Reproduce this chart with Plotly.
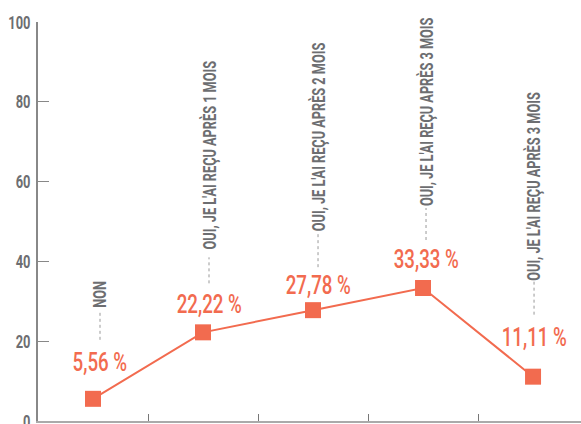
import plotly.graph_objects as go

categories = [
    "NON",
    "OUI, JE L'AI REÇU APRÈS 1 MOIS",
    "OUI, JE L'AI REÇU APRÈS 2 MOIS",
    "OUI, JE L'AI REÇU APRÈS 3 MOIS",
    "OUI, JE L'AI REÇU APRÈS 3 MOIS",
]
values = [5.56, 22.22, 27.78, 33.33, 11.11]
y_ticks = [0, 20, 40, 60, 80, 100]

# label layout (pixel offsets relative to each point)
value_label_shift = [37, 28, 25, 29, 40]
dot_lo = [59, 49, 43, 48, 62]
dot_hi = [87, 75, 77, 80, 95]
cat_label_shift = [89, 81, 77, 80, 94]
label_xshift = [7, 6, 5, 3, 1]

ORANGE = "#F26B4F"
GREY = "#6D6E71"
FONT = "Roboto, Liberation Sans, sans-serif"

xs = list(range(len(categories)))

fig = go.Figure()
fig.add_trace(go.Scatter(
    x=xs, y=values, mode="lines+markers",
    line=dict(color=ORANGE, width=2),
    marker=dict(symbol="square", size=16, color=ORANGE),
    hoverinfo="skip", showlegend=False,
))

annotations = []
shapes = []
for i, (cat, v) in enumerate(zip(categories, values)):
    annotations.append(dict(
        x=i, y=v, xref="x", yref="y", showarrow=False,
        text=f"{v:.2f}".replace(".", ",") + " %",
        font=dict(family=FONT, size=26, color=ORANGE, weight=500),
        yshift=value_label_shift[i], xshift=label_xshift[i],
        xanchor="center", yanchor="middle",
    ))
    annotations.append(dict(
        x=i, y=v, xref="x", yref="y", showarrow=False,
        text=cat, textangle=-90,
        font=dict(family=FONT, size=19, color=GREY, weight="bold"),
        yshift=cat_label_shift[i], xshift=label_xshift[i],
        xanchor="center", yanchor="bottom",
    ))
    shapes.append(dict(
        type="line", xref="x", yref="y",
        xsizemode="pixel", xanchor=i, x0=label_xshift[i], x1=label_xshift[i],
        ysizemode="pixel", yanchor=v, y0=dot_lo[i], y1=dot_hi[i],
        line=dict(color="#999999", width=1, dash="dot"),
    ))

fig.update_layout(
    width=581, height=424,
    margin=dict(l=38, r=0, t=22, b=3),
    paper_bgcolor="white", plot_bgcolor="white",
    annotations=annotations, shapes=shapes,
    font=dict(family=FONT, color=GREY),
)
fig.update_xaxes(
    range=[-0.5, 4.436], showgrid=False, zeroline=False, automargin=False,
    showticklabels=False, tickmode="array",
    tickvals=[i + 0.5 for i in xs[:-1]],
    ticks="inside", ticklen=7, tickcolor="#777777", tickwidth=1,
    showline=True, linecolor="#AAAAAA", linewidth=2,
)
fig.update_yaxes(
    range=[0, 100], tickvals=y_ticks, showgrid=False, zeroline=False, automargin=False,
    ticks="inside", ticklen=11, tickcolor="#888888", tickwidth=1,
    showline=True, linecolor="#888888", linewidth=1.5, ticklabelstandoff=2,
    ticklabeloverflow="allow",
    tickfont=dict(family=FONT, size=19, color=GREY, weight="bold"),
)

# remove the page margin and condense glyphs horizontally to mimic the narrow typeface
post_script = """
document.body.style.margin = '0';
document.body.style.padding = '0';
function squeeze(el, k, keepStart){
  var w = el.getComputedTextLength();
  if (w > 0) {
    el.setAttribute('textLength', (w*k).toFixed(1));
    el.setAttribute('lengthAdjust', 'spacingAndGlyphs');
    var d = w - w*k;
    var rect = el.parentNode ? el.parentNode.querySelector('rect.bg') : null;
    if (keepStart) {
      var x = parseFloat(el.getAttribute('x') || '0');
      el.setAttribute('x', (x - d/2).toFixed(1));
      if (rect) { rect.setAttribute('width', Math.max(0, parseFloat(rect.getAttribute('width')) - d).toFixed(1)); }
    } else if (rect) {
      rect.setAttribute('x', (parseFloat(rect.getAttribute('x') || '0') + d/2).toFixed(1));
      rect.setAttribute('width', Math.max(0, parseFloat(rect.getAttribute('width')) - d).toFixed(1));
    }
  }
}
document.querySelectorAll('.ytick text').forEach(function(t){ squeeze(t, 0.68, false); });
document.querySelectorAll('.annotation-text').forEach(function(t){
  var f = ((t.style && t.style.fill) || '') + (t.getAttribute('style') || '');
  if (f.indexOf('242, 107, 79') >= 0 || f.toLowerCase().indexOf('f26b4f') >= 0) { squeeze(t, 0.72, false); }
  else { squeeze(t, 0.67, true); }
});
"""

fig.write_html("out.html", post_script=post_script, config={"displayModeBar": False})
